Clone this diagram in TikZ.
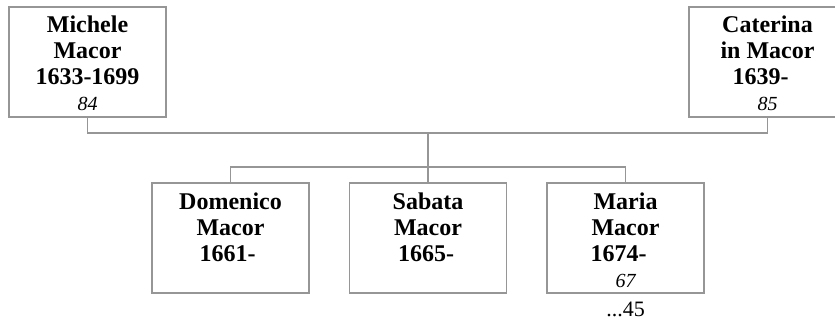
\documentclass[tikz,border=0pt]{standalone}
\usepackage{fontspec}
\setmainfont{Liberation Serif}
\definecolor{linegray}{RGB}{150,150,150}
\begin{document}
\begin{tikzpicture}[x=1pt,y=-1pt,
  box/.style={draw=linegray, line width=1.2pt, minimum width=157pt, minimum height=110pt, inner sep=0pt},
  nametext/.style={font=\fontsize{24}{26}\selectfont\bfseries, align=center, inner sep=0pt, anchor=north},
  num/.style={font=\fontsize{20}{22}\selectfont\itshape, inner sep=0pt, anchor=base},
  extra/.style={font=\fontsize{22}{24}\selectfont, inner sep=0pt, anchor=base},
  link/.style={draw=linegray, line width=1.2pt}]
\useasboundingbox (0,0) rectangle (835,323);
\clip (0,0) rectangle (835,323);
% boxes
\node[box] (mich) at (87.5,62) {};
\node[box] (cat) at (767.5,62) {};
\node[box] (dom) at (230.5,238) {};
\node[box] (sab) at (428,238) {};
\node[box] (mar) at (625.5,238) {};
% texts
\node[nametext] (michT) at ([yshift=-9pt]mich.north) {\rule{0pt}{17pt}Michele\\Macor\\1633-1699};
\node[num] (michN) at ([yshift=-104pt]mich.north) {84};
\node[nametext] (catT) at ([yshift=-9pt]cat.north) {\rule{0pt}{17pt}Caterina\\in Macor\\1639-\hspace*{14pt}};
\node[num] (catN) at ([yshift=-104pt]cat.north) {85};
\node[nametext] (domT) at ([yshift=-10pt]dom.north) {\rule{0pt}{17pt}Domenico\\Macor\\1661-\hspace*{6pt}};
\node[nametext] (sabT) at ([yshift=-10pt]sab.north) {\rule{0pt}{17pt}Sabata\\Macor\\1665-\hspace*{4pt}};
\node[nametext] (marT) at ([yshift=-10pt]mar.north) {\rule{0pt}{17pt}Maria\\Macor\\1674-\hspace*{14pt}};
\node[num] (marN) at ([yshift=-105pt]mar.north) {67};
\node[extra] (marX) at ([yshift=-23pt]mar.south) {...45};
% connectors
\coordinate (marr) at (428,133);
\coordinate (sib) at (428,167);
\draw[link] (mich.south) |- (marr) -| (cat.south);
\draw[link] (marr) -- (sib);
\draw[link] (sib) -| (dom.north);
\draw[link] (sib) -| (mar.north);
\draw[link] (sib) -- (sab.north);
\end{tikzpicture}
\end{document}
